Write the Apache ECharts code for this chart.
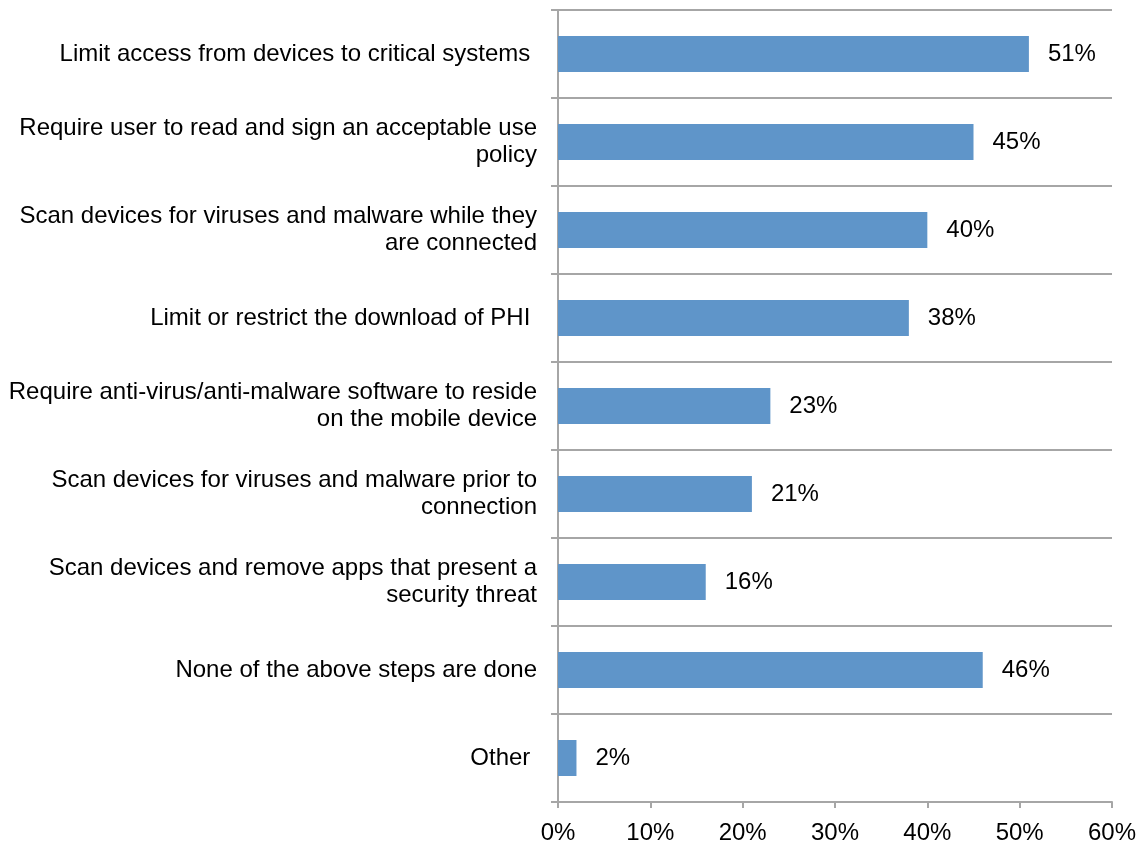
<!DOCTYPE html>
<html>
<head>
<meta charset="utf-8">
<script src="https://cdn.jsdelivr.net/npm/echarts@6/dist/echarts.min.js"></script>
<style>
html,body{margin:0;padding:0;background:#fff;}
#chart{width:1143px;height:846px;}
</style>
</head>
<body>
<div id="chart"></div>
<script>
const categories = [
  "Limit access from devices to critical systems ",
  "Require user to read and sign an acceptable use\npolicy",
  "Scan devices for viruses and malware while they\nare connected",
  "Limit or restrict the download of PHI ",
  "Require anti-virus/anti-malware software to reside\non the mobile device",
  "Scan devices for viruses and malware prior to\nconnection",
  "Scan devices and remove apps that present a\nsecurity threat",
  "None of the above steps are done",
  "Other "
];
const values = [51, 45, 40, 38, 23, 21, 16, 46, 2];
const xTicks = [0, 10, 20, 30, 40, 50, 60];

const chart = echarts.init(document.getElementById('chart'));
const lineColor = '#a6a6a6';
const font = 'Liberation Sans, Arial, sans-serif';
chart.setOption({
  animation: false,
  grid: {left: 558, right: 31, top: 10, bottom: 44, containLabel: false},
  xAxis: {
    type: 'value',
    min: xTicks[0],
    max: xTicks[xTicks.length - 1],
    interval: 10,
    axisLine: {show: true, lineStyle: {color: lineColor, width: 2}},
    axisTick: {show: true, length: 6, lineStyle: {color: lineColor, width: 2}},
    splitLine: {show: false},
    axisLabel: {
      formatter: v => v + '%',
      color: '#000',
      fontSize: 24,
      fontFamily: font,
      margin: 19
    }
  },
  yAxis: {
    type: 'category',
    data: categories,
    inverse: true,
    axisLine: {show: true, lineStyle: {color: lineColor, width: 2}},
    axisTick: {show: true, length: 7, lineStyle: {color: lineColor, width: 2}},
    splitLine: {show: true, lineStyle: {color: lineColor, width: 2}},
    axisLabel: {
      color: '#000',
      fontSize: 24,
      lineHeight: 27,
      align: 'right',
      fontFamily: font,
      margin: 21
    }
  },
  series: [{
    type: 'bar',
    data: values,
    barWidth: 36,
    itemStyle: {color: '#5f95c9'},
    label: {
      show: true,
      position: 'right',
      distance: 19,
      formatter: p => p.value + '%',
      color: '#000',
      fontSize: 24,
      fontFamily: font
    }
  }]
});
</script>
</body>
</html>
